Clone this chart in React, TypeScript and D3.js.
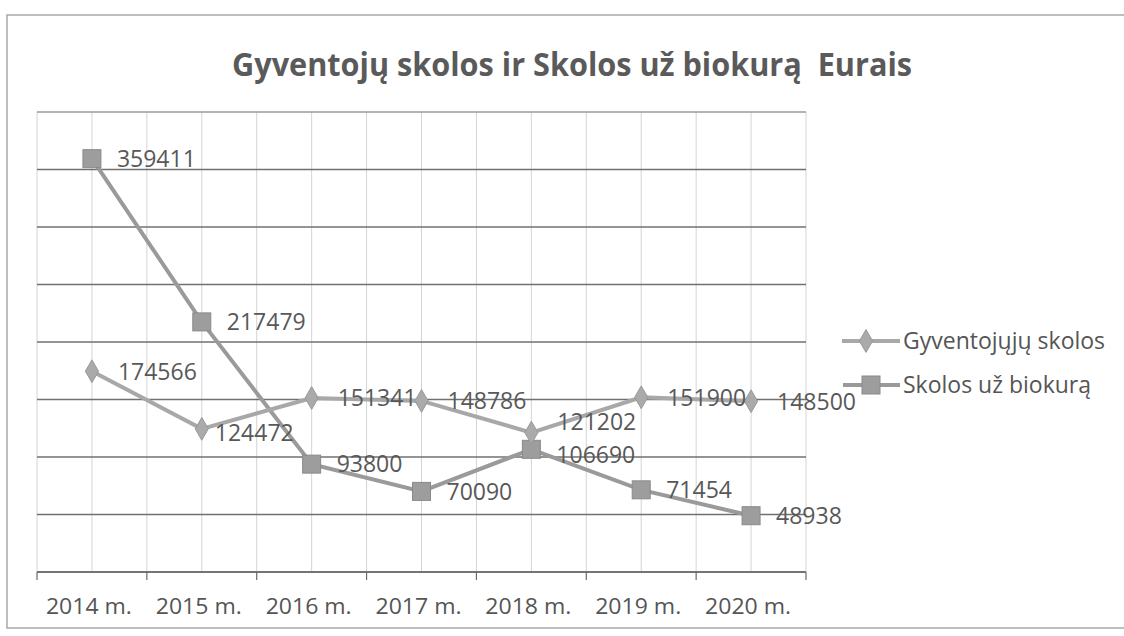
import React from 'react';
import * as d3 from 'd3';

const years = ['2014 m.', '2015 m.', '2016 m.', '2017 m.', '2018 m.', '2019 m.', '2020 m.'];
const gyventojuSkolos = [174566, 124472, 151341, 148786, 121202, 151900, 148500];
const biokuroSkolos = [359411, 217479, 93800, 70090, 106690, 71454, 48938];
const seriesNames = ['Gyventojųjų skolos', 'Skolos už biokurą'];

const W = 1124;
const H = 636;
const font = '"Open Sans", "Liberation Sans", sans-serif';

export default function App() {
  const x = d3.scaleBand().domain(years).range([37, 806]).padding(0);
  const y = d3.scaleLinear().domain([0, 400000]).range([572, 112]);
  const bw = x.bandwidth();
  const cx = (c: string) => (x(c) as number) + bw / 2;

  const line = d3
    .line<number>()
    .x((d, i) => cx(years[i]))
    .y((d) => y(d));

  // vertical gridlines: band edges and band centers
  const vLines: number[] = [];
  years.forEach((c) => {
    vLines.push(x(c) as number);
    vLines.push(cx(c));
  });
  vLines.push(806);

  const diamond = d3.symbol().type(d3.symbolDiamond).size(150)();

  // small nudges where labels collide (as in the original)
  const gOffX = [26, 13, 26, 26, 26, 26, 26];
  const gOffY = [0, 4, 0, 0, -11, 0, 0];
  const sOffY = [0, 0, 0, 0, 5, 0, 0];

  return (
    <svg
      width={W}
      height={H}
      style={{ position: 'absolute', left: 0, top: 0, background: '#fff' }}
    >
      {/* outer frame */}
      <rect x={7} y={15} width={1130} height={613} fill="#fff" stroke="#a8a8a8" strokeWidth={1.5} />

      <text
        x={572}
        y={76}
        textAnchor="middle"
        fontFamily={font}
        fontWeight={700}
        fontSize={32}
        fill="#5a5a5a"
        textLength={680}
        lengthAdjust="spacingAndGlyphs"
        style={{ whiteSpace: 'pre' }}
      >
        Gyventojų skolos ir Skolos už biokurą  Eurais
      </text>

      {/* vertical grid */}
      {vLines.map((vx, i) => (
        <line key={'v' + i} x1={vx} x2={vx} y1={112} y2={572} stroke="#d4d4d4" strokeWidth={1} />
      ))}

      {/* horizontal grid */}
      {y.ticks(8).map((t) => (
        <line
          key={'h' + t}
          x1={37}
          x2={806}
          y1={y(t)}
          y2={y(t)}
          stroke={t === 400000 ? '#9a9a9a' : '#707070'}
          strokeWidth={1.3}
        />
      ))}

      {/* x axis */}
      <line x1={37} x2={806} y1={572} y2={572} stroke="#6a6a6a" strokeWidth={1.5} />
      {[...years.map((c) => x(c) as number), 806].map((tx, i) => (
        <line key={'t' + i} x1={tx} x2={tx} y1={572} y2={580} stroke="#6a6a6a" strokeWidth={1.2} />
      ))}
      {years.map((c) => (
        <text
          key={c}
          x={cx(c) - 3}
          y={614}
          textAnchor="middle"
          fontFamily={font}
          fontSize={22}
          fill="#555"
          textLength={86}
          lengthAdjust="spacingAndGlyphs"
        >
          {c}
        </text>
      ))}

      {/* series: Skolos už biokurą */}
      <path d={line(biokuroSkolos) || ''} fill="none" stroke="#9a9a9a" strokeWidth={4} />
      {/* series: Gyventojų skolos */}
      <path d={line(gyventojuSkolos) || ''} fill="none" stroke="#a8a8a8" strokeWidth={4} />

      {biokuroSkolos.map((v, i) => (
        <rect
          key={'s' + i}
          x={cx(years[i]) - 9}
          y={y(v) - 9}
          width={18}
          height={18}
          fill="#9d9d9d"
          stroke="#8a8a8a"
        />
      ))}
      {gyventojuSkolos.map((v, i) => (
        <path
          key={'d' + i}
          d={diamond || ''}
          transform={`translate(${cx(years[i])},${y(v)})`}
          fill="#aaaaaa"
          stroke="#999"
        />
      ))}

      {/* data labels */}
      {biokuroSkolos.map((v, i) => (
        <text
          key={'ls' + i}
          x={cx(years[i]) + 25}
          y={y(v) + sOffY[i]}
          dy="0.36em"
          fontFamily={font}
          fontSize={23}
          fill="#585858"
        >
          {v}
        </text>
      ))}
      {gyventojuSkolos.map((v, i) => (
        <text
          key={'lg' + i}
          x={cx(years[i]) + gOffX[i]}
          y={y(v) + gOffY[i]}
          dy="0.36em"
          fontFamily={font}
          fontSize={23}
          fill="#585858"
        >
          {v}
        </text>
      ))}

      {/* legend */}
      <line x1={842} x2={900} y1={341} y2={341} stroke="#a8a8a8" strokeWidth={4} />
      <path d={diamond || ''} transform="translate(866,341)" fill="#aaaaaa" stroke="#999" />
      <text x={903} y={341} dy="0.36em" fontFamily={font} fontSize={23} fill="#555">
        {seriesNames[0]}
      </text>
      <line x1={843} x2={900} y1={385} y2={385} stroke="#9a9a9a" strokeWidth={4} />
      <rect x={862} y={376} width={18} height={18} fill="#9d9d9d" stroke="#8a8a8a" />
      <text x={903} y={385} dy="0.36em" fontFamily={font} fontSize={23} fill="#555">
        {seriesNames[1]}
      </text>
    </svg>
  );
}
